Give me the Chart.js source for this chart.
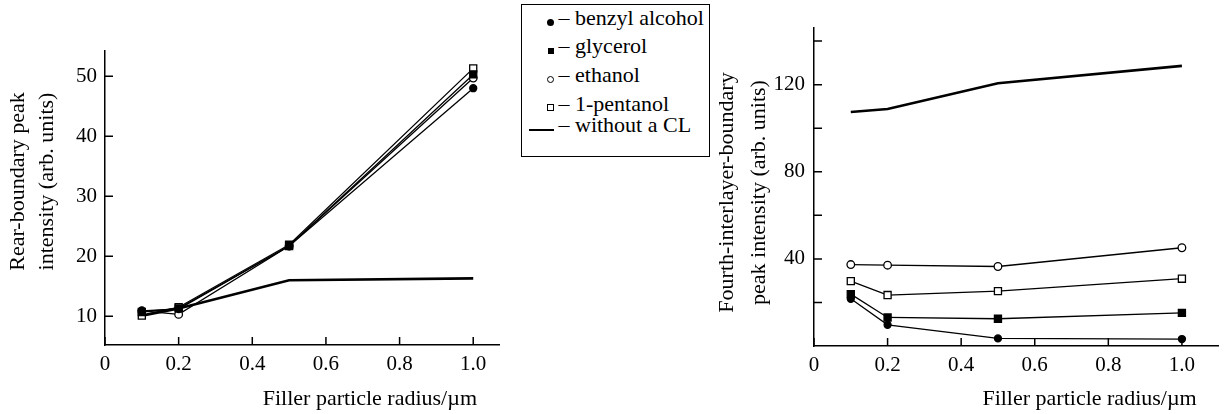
<!DOCTYPE html>
<html>
<head>
<meta charset="utf-8">
<script src="https://cdn.jsdelivr.net/npm/chart.js@4.4.1/dist/chart.umd.min.js"></script>
<style>
  body { margin: 0; background: #fff; width: 1225px; height: 414px; position: relative; overflow: hidden; }
  canvas { position: absolute; top: 0; }
  #left { left: 0; }
  #right { left: 700px; }
  .legend {
    position: absolute; left: 521px; top: 4px; width: 189px; height: 153px;
    box-sizing: border-box; border: 1.5px solid #000;
    font-family: "Liberation Serif", "DejaVu Serif", "Times New Roman", serif; font-size: 22px; color: #000;
  }
  .legend .row { position: absolute; left: 0; height: 28px; line-height: 28px; white-space: nowrap; }
  .legend .mk { display: inline-block; width: 31.5px; text-align: right; margin-right: 5px; }
  .legend .mk span { display: inline-block; box-sizing: border-box; vertical-align: -0.5px; }
</style>
</head>
<body>
<canvas id="left" width="510" height="414"></canvas>
<div class="legend" id="legend"></div>
<canvas id="right" width="525" height="414"></canvas>
<script>
// x values (filler particle radius, um)
const radii = [0.1, 0.2, 0.5, 1.0];

const seriesNames = ["benzyl alcohol", "glycerol", "ethanol", "1-pentanol", "without a CL"];

// rear-boundary peak intensity (left panel)
const rearBenzyl = [10.9, 11.2, 21.7, 48.0];
const rearGlycerol = [10.7, 11.3, 21.7, 50.3];
const rearEthanol = [10.9, 10.3, 21.7, 49.7];
const rearPentanol = [10.1, 11.5, 21.9, 51.3];
const rearNoCL = [10.1, 11.3, 16.0, 16.3];

// fourth-interlayer-boundary peak intensity (right panel)
const fourthBenzyl = [21.7, 9.7, 3.5, 3.2];
const fourthGlycerol = [23.8, 13.1, 12.5, 15.2];
const fourthEthanol = [37.4, 37.1, 36.5, 45.1];
const fourthPentanol = [29.8, 23.4, 25.2, 30.9];
const fourthNoCL = [107.4, 108.8, 120.6, 128.6];

// ticks
const xTicks = [0, 0.2, 0.4, 0.6, 0.8, 1.0];
const xTickLabels = ["0", "0.2", "0.4", "0.6", "0.8", "1.0"];
const leftYTicks = [10, 20, 30, 40, 50];
const leftYTickLabels = ["10", "20", "30", "40", "50"];
const rightYTicks = [20, 40, 60, 80, 100, 120, 140];
const rightYTickLabels = ["", "40", "", "80", "", "120", ""];

const serif = '"Liberation Serif", "DejaVu Serif", "Times New Roman", serif';

// how each series is drawn
const styles = [
  { pointStyle: "circle", pointRadius: 3.5, fill: "#000", borderWidth: 1.3 },
  { pointStyle: "rect", pointRadius: 5, fill: "#000", borderWidth: 1.3 },
  { pointStyle: "circle", pointRadius: 3.8, fill: "#fff", borderWidth: 1.3 },
  { pointStyle: "rect", pointRadius: 5, fill: "#fff", borderWidth: 1.3 },
  { pointStyle: false, pointRadius: 0, fill: "#000", borderWidth: 2.6 },
];

const makeDatasets = (lists) =>
  lists.map((vals, i) => ({
    label: seriesNames[i],
    data: radii.map((r, j) => ({ x: r, y: vals[j] })),
    borderColor: "#000",
    borderWidth: styles[i].borderWidth,
    pointStyle: styles[i].pointStyle,
    pointRadius: styles[i].pointRadius,
    pointBackgroundColor: styles[i].fill,
    pointBorderColor: "#000",
    pointBorderWidth: 1.3,
    tension: 0,
  }));

// tick marks pointing into the plot area
const innerTicks = {
  id: "innerTicks",
  afterDraw(chart) {
    const { ctx, chartArea } = chart;
    const xs = chart.scales.x;
    const ys = chart.scales.y;
    ctx.save();
    ctx.strokeStyle = "#000";
    ctx.lineWidth = 1.5;
    ctx.beginPath();
    xs.ticks.forEach((t) => {
      const px = xs.getPixelForValue(t.value);
      ctx.moveTo(px, chartArea.bottom);
      ctx.lineTo(px, chartArea.bottom - 8);
    });
    ys.ticks.forEach((t) => {
      const py = ys.getPixelForValue(t.value);
      ctx.moveTo(chartArea.left, py);
      ctx.lineTo(chartArea.left + 8, py);
    });
    ctx.stroke();
    ctx.restore();
  },
};

Chart.defaults.font.family = serif;

const makeChart = (id, lists, cfg) => {
  const canvas = document.getElementById(id);
  return new Chart(canvas.getContext("2d"), {
    type: "line",
    data: { datasets: makeDatasets(lists) },
    plugins: [innerTicks],
    options: {
      responsive: false,
      animation: false,
      layout: { padding: { top: cfg.top, right: cfg.right, left: 0, bottom: 0 } },
      plugins: { legend: { display: false }, tooltip: { enabled: false } },
      scales: {
        x: {
          type: "linear",
          min: 0,
          max: cfg.xMax,
          afterBuildTicks: (s) => { s.ticks = xTicks.map((v) => ({ value: v })); },
          afterFit: (s) => { s.height = cfg.xAxisHeight; },
          grid: { display: true, drawOnChartArea: false, drawTicks: false },
          border: { display: true, color: "#000", width: 1.5 },
          ticks: {
            color: "#000",
            padding: 7,
            autoSkip: false,
            maxRotation: 0,
            font: { family: serif, size: 21 },
            callback: (v) => xTickLabels[xTicks.indexOf(v)],
          },
          title: {
            display: true,
            text: "Filler particle radius/µm\u2003",
            align: "end",
            color: "#000",
            font: { family: serif, size: 22 },
            padding: { top: 0, bottom: 2 },
          },
        },
        y: {
          min: cfg.yMin,
          max: cfg.yMax,
          afterBuildTicks: (s) => { s.ticks = cfg.yTicks.map((v) => ({ value: v })); },
          afterFit: (s) => { s.width = cfg.yAxisWidth; },
          grid: { display: true, drawOnChartArea: false, drawTicks: false },
          border: { display: true, color: "#000", width: 1.5 },
          ticks: {
            color: "#000",
            padding: cfg.yPad,
            autoSkip: false,
            font: { family: serif, size: 21 },
            callback: (v) => cfg.yLabels[cfg.yTicks.indexOf(v)],
          },
          title: {
            display: true,
            text: cfg.yTitle,
            color: "#000",
            font: { family: serif, size: 22, lineHeight: cfg.titleLH },
            padding: { top: cfg.titlePad, bottom: 0 },
          },
        },
      },
    },
  });
};

makeChart("left", [rearBenzyl, rearGlycerol, rearEthanol, rearPentanol, rearNoCL], {
  top: 51, right: 11, xAxisHeight: 69, yAxisWidth: 105,
  xMax: 1.07, yMin: 5.2, yMax: 54.2,
  yTicks: leftYTicks, yLabels: leftYTickLabels, yPad: 8,
  yTitle: ["\u2003\u2002Rear-boundary peak", "\u2003\u2002intensity (arb. units)"],
  titleLH: 1.32, titlePad: 3.5,
});

makeChart("right", [fourthBenzyl, fourthGlycerol, fourthEthanol, fourthPentanol, fourthNoCL], {
  top: 28, right: 3, xAxisHeight: 68, yAxisWidth: 114,
  xMax: 1.1, yMin: 0, yMax: 146,
  yTicks: rightYTicks, yLabels: rightYTickLabels, yPad: 9,
  yTitle: ["Fourth-interlayer-boundary\u2002", "peak intensity (arb. units)\u2002"],
  titleLH: 1.45, titlePad: 11,
});

// legend box between the panels
const legendRowTops = [-1, 27, 56, 84.5, 105.5];
const markerCss = [
  "width:7px;height:7px;border-radius:50%;background:#000;",
  "width:6px;height:6px;background:#000;",
  "width:7px;height:7px;border-radius:50%;border:1.3px solid #000;background:#fff;",
  "width:7px;height:7px;border:1.3px solid #000;background:#fff;",
  "width:25px;height:2.5px;background:#000;vertical-align:0.5px;",
];
const legend = document.getElementById("legend");
seriesNames.forEach((name, i) => {
  const row = document.createElement("div");
  row.className = "row";
  row.style.top = legendRowTops[i] + "px";
  const mk = document.createElement("span");
  mk.className = "mk";
  const sym = document.createElement("span");
  sym.style.cssText = markerCss[i];
  mk.appendChild(sym);
  row.appendChild(mk);
  row.appendChild(document.createTextNode("– " + name));
  legend.appendChild(row);
});
</script>
</body>
</html>
